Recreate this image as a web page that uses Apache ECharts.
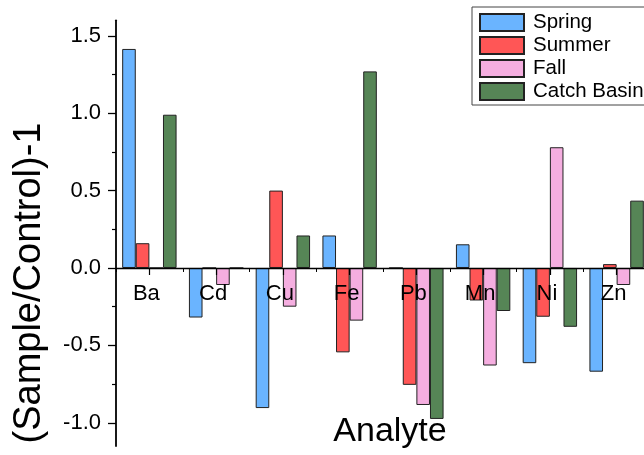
<!DOCTYPE html>
<html>
<head>
<meta charset="utf-8">
<script src="https://cdn.jsdelivr.net/npm/echarts@6/dist/echarts.min.js"></script>
<style>
html,body{margin:0;padding:0;background:#fff;}
#chart{width:644px;height:455px;}
</style>
</head>
<body>
<div id="chart"></div>
<script>
const categories = ['Ba','Cd','Cu','Fe','Pb','Mn','Ni','Zn'];
const seriesNames = ['Spring','Summer','Fall','Catch Basin'];
const spring     = [1.415, -0.32, -0.905, 0.21, 0.0, 0.153, -0.615, -0.67];
const summer     = [0.16, 0.0, 0.50, -0.545, -0.755, -0.21, -0.315, 0.025];
const fall       = [0.0, -0.11, -0.25, -0.34, -0.885, -0.63, 0.78, -0.11];
const catchBasin = [0.99, 0.0, 0.21, 1.27, -0.975, -0.278, -0.38, 0.435];
const yMajorTicks = [-1.0, -0.5, 0.0, 0.5, 1.0, 1.5];
const yMinorTicks = [-0.75, -0.25, 0.25, 0.75, 1.25];
const yMin = -1.15, yMax = 1.6;

const FONT = '"Liberation Sans", Arial, sans-serif';
const colors = ['#6AB4FF', '#FF5656', '#F5AEE0', '#568556'];
const values = [spring, summer, fall, catchBasin];

const chart = echarts.init(document.getElementById('chart'), null, {renderer: 'canvas'});
chart.setOption({
  animation: false,
  backgroundColor: '#fff',
  grid: {left: 116, right: -6, top: 20.3, bottom: 9, containLabel: false, outerBoundsMode: 'none'},
  legend: {
    orient: 'vertical',
    left: 472, top: 7,
    padding: [5, 7, 3, 7],
    itemWidth: 44, itemHeight: 17, itemGap: 2,
    backgroundColor: '#fff',
    borderColor: '#444', borderWidth: 1,
    icon: 'rect',
    textStyle: {fontFamily: FONT, fontSize: 20.5, color: '#000', padding: [0, 0, 0, 4]},
    data: seriesNames
  },
  xAxis: [{
    type: 'category',
    data: categories,
    position: 'bottom',
    z: 5,
    axisLine: {onZero: true, lineStyle: {color: '#000', width: 1.3}},
    axisTick: {show: true, alignWithLabel: true, length: 7, lineStyle: {color: '#000', width: 1.2}},
    axisLabel: {fontFamily: FONT, fontSize: 22, color: '#000', margin: -163, padding: [0, 6, 0, 0]},
    splitLine: {show: false}
  }, {
    type: 'category',
    data: categories,
    position: 'bottom',
    axisLine: {show: false, onZero: true},
    axisTick: {show: true, length: 4, lineStyle: {color: '#000', width: 1}},
    axisLabel: {show: false},
    splitLine: {show: false}
  }],
  yAxis: [{
    type: 'value',
    min: yMin, max: yMax,
    position: 'left',
    axisLine: {show: true, onZero: false, lineStyle: {color: '#000', width: 1.8}},
    axisTick: {show: true, customValues: yMajorTicks, length: 8, lineStyle: {color: '#000', width: 1.3}},
    axisLabel: {
      customValues: yMajorTicks,
      fontFamily: FONT, fontSize: 22, color: '#000', margin: 15,
      formatter: v => v.toFixed(1)
    },
    splitLine: {show: false}
  }, {
    type: 'value',
    min: yMin, max: yMax,
    position: 'left',
    axisLine: {show: false, onZero: false},
    axisTick: {show: true, customValues: yMinorTicks, length: 4, lineStyle: {color: '#000', width: 1.2}},
    axisLabel: {show: false},
    splitLine: {show: false}
  }],
  graphic: [{
    type: 'text',
    x: 30, y: 283,
    rotation: Math.PI / 2,
    style: {text: '(Sample/Control)-1', font: '38px ' + FONT, fill: '#000', align: 'center', verticalAlign: 'middle'}
  }, {
    type: 'text',
    x: 390, y: 432,
    style: {text: 'Analyte', font: '34px ' + FONT, fill: '#000', align: 'center', verticalAlign: 'middle'}
  }],
  series: seriesNames.map((name, i) => ({
    name: name,
    type: 'bar',
    xAxisIndex: 0, yAxisIndex: 0,
    data: values[i],
    barWidth: 13.6,
    barGap: '0%',
    itemStyle: {color: colors[i], borderColor: '#222', borderWidth: 1}
  }))
});
</script>
</body>
</html>
